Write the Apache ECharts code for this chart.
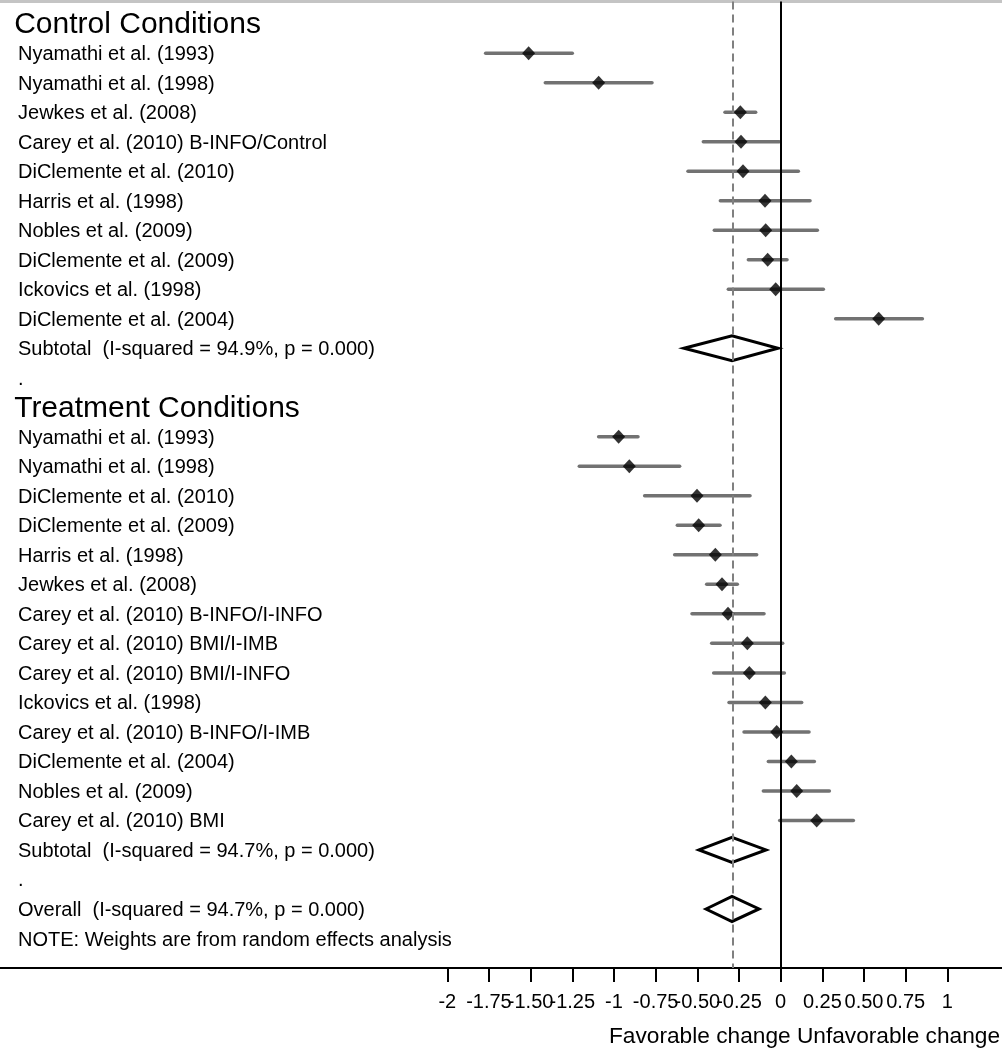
<!DOCTYPE html>
<html>
<head>
<meta charset="utf-8">
<script src="https://cdn.jsdelivr.net/npm/echarts@6/dist/echarts.min.js"></script>
<style>
  html, body { margin: 0; padding: 0; background: #fff; }
  #chart { width: 1002px; height: 1050px; }
</style>
</head>
<body>
<div id="chart"></div>
<script>
// ---------------- DATA ----------------
const controlHeader = 'Control Conditions';
const controlStudies = [
  'Nyamathi et al. (1993)',
  'Nyamathi et al. (1998)',
  'Jewkes et al. (2008)',
  'Carey et al. (2010) B-INFO/Control',
  'DiClemente et al. (2010)',
  'Harris et al. (1998)',
  'Nobles et al. (2009)',
  'DiClemente et al. (2009)',
  'Ickovics et al. (1998)',
  'DiClemente et al. (2004)'
];
const controlEst = [-1.512, -1.092, -0.242, -0.238, -0.226, -0.094, -0.090, -0.078, -0.030, 0.588];
const controlLo  = [-1.770, -1.412, -0.334, -0.464, -0.556, -0.362, -0.398, -0.194, -0.314, 0.330];
const controlHi  = [-1.250, -0.772, -0.150, -0.008, 0.106, 0.176, 0.220, 0.038, 0.256, 0.850];

const treatmentHeader = 'Treatment Conditions';
const treatmentStudies = [
  'Nyamathi et al. (1993)',
  'Nyamathi et al. (1998)',
  'DiClemente et al. (2010)',
  'DiClemente et al. (2009)',
  'Harris et al. (1998)',
  'Jewkes et al. (2008)',
  'Carey et al. (2010) B-INFO/I-INFO',
  'Carey et al. (2010) BMI/I-IMB',
  'Carey et al. (2010) BMI/I-INFO',
  'Ickovics et al. (1998)',
  'Carey et al. (2010) B-INFO/I-IMB',
  'DiClemente et al. (2004)',
  'Nobles et al. (2009)',
  'Carey et al. (2010) BMI'
];
const treatmentEst = [-0.972, -0.908, -0.502, -0.492, -0.392, -0.352, -0.316, -0.200, -0.188, -0.092, -0.024, 0.064, 0.096, 0.216];
const treatmentLo  = [-1.092, -1.208, -0.816, -0.620, -0.636, -0.444, -0.532, -0.414, -0.402, -0.310, -0.220, -0.074, -0.104, -0.006];
const treatmentHi  = [-0.856, -0.606, -0.184, -0.364, -0.144, -0.260, -0.100, 0.012, 0.022, 0.126, 0.170, 0.202, 0.292, 0.436];

const pooledLabels = [
  'Subtotal  (I-squared = 94.9%, p = 0.000)',
  'Subtotal  (I-squared = 94.7%, p = 0.000)',
  'Overall  (I-squared = 94.7%, p = 0.000)'
];
const pooledEst = [-0.292, -0.292, -0.292];
const pooledLo  = [-0.580, -0.490, -0.448];
const pooledHi  = [-0.016, -0.088, -0.130];

const overallEffect = -0.292;
const noteText = 'NOTE: Weights are from random effects analysis';
const axisTitle = 'Favorable change Unfavorable change';

const xTicks = [-2, -1.75, -1.5, -1.25, -1, -0.75, -0.5, -0.25, 0, 0.25, 0.5, 0.75, 1];
const xTickLabels = ['-2', '-1.75', '-1.50', '-1.25', '-1', '-0.75', '-0.50', '-0.25', '0', '0.25', '0.50', '0.75', '1'];

// ---------------- LAYOUT (row structure) ----------------
const X_MIN = -4.683, X_MAX = 1.3276;
const LABEL_X = -4.575, HEADER_X = -4.598;
const FONT = '"Liberation Sans", Arial, sans-serif';

const rowTexts = [];
const textData = [];   // [x, row, textIndex, isHeader]
const studyData = [];  // [est, row, lo, hi]
const pooledData = []; // [est, row, lo, hi]
let row = 0;
function addText(t, header) {
  rowTexts.push(t);
  textData.push([header ? HEADER_X : LABEL_X, row, rowTexts.length - 1, header ? 1 : 0]);
}
addText(controlHeader, true); row++;
controlStudies.forEach((s, i) => { addText(s, false); studyData.push([controlEst[i], row, controlLo[i], controlHi[i]]); row++; });
addText(pooledLabels[0], false); pooledData.push([pooledEst[0], row, pooledLo[0], pooledHi[0]]); row++;
addText('.', false); row++;
addText(treatmentHeader, true); row++;
treatmentStudies.forEach((s, i) => { addText(s, false); studyData.push([treatmentEst[i], row, treatmentLo[i], treatmentHi[i]]); row++; });
addText(pooledLabels[1], false); pooledData.push([pooledEst[1], row, pooledLo[1], pooledHi[1]]); row++;
addText('.', false); row++;
addText(pooledLabels[2], false); pooledData.push([pooledEst[2], row, pooledLo[2], pooledHi[2]]); row++;
addText(noteText, false); row++;
const ROW_MAX = row; // 32 -> axis line

const chart = echarts.init(document.getElementById('chart'), null, { renderer: 'canvas' });

chart.setOption({
  backgroundColor: '#fff',
  animation: false,
  title: {
    text: axisTitle,
    right: 2,
    top: 1025,
    padding: 0,
    textStyle: { fontFamily: FONT, fontSize: 22.7, fontWeight: 'normal', color: '#000' }
  },
  grid: { left: 0, right: 0, top: 1.5, bottom: 82, containLabel: false },
  xAxis: [
    {
      type: 'value', position: 'bottom', min: X_MIN, max: X_MAX,
      axisLine: { show: true, onZero: false, lineStyle: { color: '#000', width: 2 } },
      axisTick: { show: true, customValues: xTicks, length: 14, inside: false, lineStyle: { color: '#000', width: 2 } },
      axisLabel: {
        show: true, customValues: xTicks, margin: 24, hideOverlap: false,
        fontFamily: FONT, fontSize: 20, color: '#000',
        formatter: function (v) {
          for (let i = 0; i < xTicks.length; i++) if (Math.abs(xTicks[i] - v) < 1e-6) return xTickLabels[i];
          return '';
        }
      },
      splitLine: { show: false }
    },
    {
      type: 'value', position: 'top', min: X_MIN, max: X_MAX,
      axisLine: { show: true, onZero: false, lineStyle: { color: '#c4c4c4', width: 3 } },
      axisTick: { show: false }, axisLabel: { show: false }, splitLine: { show: false }
    }
  ],
  yAxis: {
    type: 'value', min: -0.75, max: ROW_MAX, inverse: true,
    show: false, splitLine: { show: false }
  },
  series: [
    {
      type: 'scatter', data: [], z: 1, silent: true,
      markLine: {
        symbol: 'none', silent: true, animation: false,
        label: { show: false },
        data: [
          { xAxis: 0, lineStyle: { color: '#000', width: 2, type: 'solid' } },
          { xAxis: overallEffect, lineStyle: { color: '#808080', width: 2, type: [8, 5] } }
        ]
      }
    },
    {
      type: 'custom', z: 2, silent: true,
      data: studyData,
      encode: { x: [0, 2, 3], y: 1 },
      renderItem: function (params, api) {
        const r = api.value(1);
        const p1 = api.coord([api.value(2), r]);
        const p2 = api.coord([api.value(3), r]);
        return {
          type: 'line',
          shape: { x1: p1[0], y1: p1[1], x2: p2[0], y2: p2[1] },
          style: { stroke: '#727272', lineWidth: 3.5, lineCap: 'round' }
        };
      }
    },
    {
      type: 'scatter', z: 3, silent: true,
      data: studyData.map(d => [d[0], d[1]]),
      symbol: 'diamond', symbolSize: [13, 14],
      itemStyle: { color: '#000' }
    },
    {
      type: 'custom', z: 3, silent: true,
      data: pooledData,
      encode: { x: [0, 2, 3], y: 1 },
      renderItem: function (params, api) {
        const r = api.value(1);
        const c = api.coord([api.value(0), r]);
        const l = api.coord([api.value(2), r]);
        const h = api.coord([api.value(3), r]);
        const half = 12.5;
        return {
          type: 'polygon',
          shape: { points: [[l[0], c[1]], [c[0], c[1] - half], [h[0], c[1]], [c[0], c[1] + half]] },
          style: { fill: 'rgba(255,255,255,0)', stroke: '#000', lineWidth: 3, lineJoin: 'miter' }
        };
      }
    },
    {
      type: 'custom', z: 4, silent: true,
      data: textData,
      encode: { x: 0, y: 1 },
      renderItem: function (params, api) {
        const p = api.coord([api.value(0), api.value(1)]);
        const header = api.value(3) === 1;
        return {
          type: 'text',
          style: {
            text: rowTexts[api.value(2)],
            x: p[0], y: p[1] + (header ? 1 : 1.5),
            fill: '#000',
            font: (header ? 30 : 20) + 'px ' + FONT,
            align: 'left', verticalAlign: 'middle'
          }
        };
      }
    }
  ]
});
</script>
</body>
</html>
